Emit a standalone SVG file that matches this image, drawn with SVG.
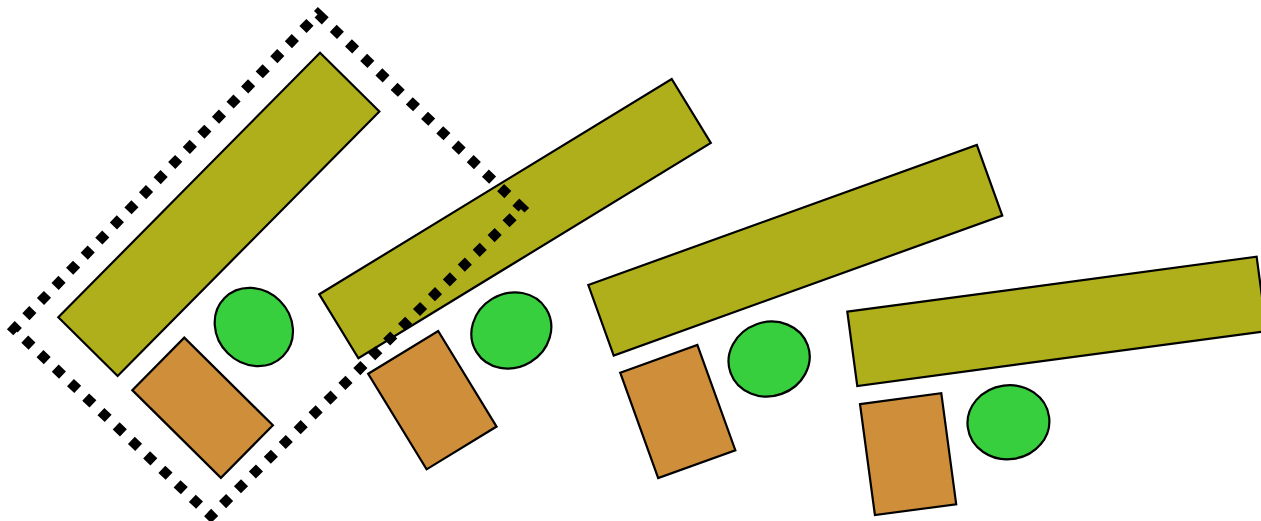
<svg xmlns="http://www.w3.org/2000/svg" width="1261" height="521" viewBox="0 0 1261 521">
  <style>
    .shape { stroke: #000; stroke-width: 2.2; vector-effect: non-scaling-stroke; stroke-linejoin: miter; }
    .olive { fill: #AFAF1B; }
    .orange { fill: #CF8E3A; }
    .green { fill: #37CF3E; }
    .sel { fill: none; stroke: #000; stroke-width: 10; stroke-dasharray: 10 11; }
  </style>
  <rect width="1261" height="521" fill="#fff"/>
  <g id="group1" transform="translate(58.3,317.3) rotate(-45.3) scale(0.901,1.113)">
    <rect class="shape olive" x="0" y="0" width="413" height="75"/>
    <rect class="shape orange" x="0.3" y="93.3" width="82" height="112"/>
    <ellipse class="shape green" cx="145" cy="131" rx="41" ry="37"/>
  </g>
  <g id="group2" transform="translate(319.3,294.3) rotate(-31.43)">
    <rect class="shape olive" x="0" y="0" width="413" height="75"/>
    <rect class="shape orange" x="0.3" y="93.3" width="82" height="112"/>
    <ellipse class="shape green" cx="145" cy="131" rx="41" ry="37"/>
  </g>
  <g id="group3" transform="translate(588.3,285) rotate(-19.82)">
    <rect class="shape olive" x="0" y="0" width="413" height="75"/>
    <rect class="shape orange" x="0.3" y="93.3" width="82" height="112"/>
    <ellipse class="shape green" cx="145" cy="131" rx="41" ry="37"/>
  </g>
  <g id="group4" transform="translate(847.3,311.7) rotate(-7.65)">
    <rect class="shape olive" x="0" y="0" width="413" height="75"/>
    <rect class="shape orange" x="0.3" y="93.3" width="82" height="112"/>
    <ellipse class="shape green" cx="145" cy="131" rx="41" ry="37"/>
  </g>
  <g id="selection">
    <path class="sel" d="M318,14 L522,208 L211,516 L14,329 Z"/>
  </g>
</svg>
